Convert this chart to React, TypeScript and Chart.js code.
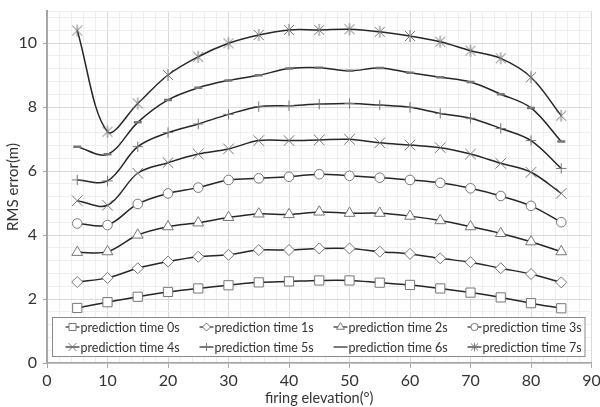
import React, { useEffect, useRef } from 'react';
import { Chart, registerables } from 'chart.js';
import { drawPoint } from 'chart.js/helpers';

Chart.register(...registerables);

// ---- data ----
const elevations = [5, 10, 15, 20, 25, 30, 35, 40, 45, 50, 55, 60, 65, 70, 75, 80, 85];
const seriesLabels = [
  'prediction time 0s',
  'prediction time 1s',
  'prediction time 2s',
  'prediction time 3s',
  'prediction time 4s',
  'prediction time 5s',
  'prediction time 6s',
  'prediction time 7s',
];
const rms0s = [1.72, 1.9, 2.07, 2.22, 2.33, 2.43, 2.52, 2.55, 2.58, 2.58, 2.51, 2.44, 2.33, 2.2, 2.05, 1.87, 1.71];
const rms1s = [2.53, 2.66, 2.96, 3.17, 3.32, 3.38, 3.53, 3.53, 3.58, 3.58, 3.48, 3.41, 3.27, 3.15, 2.96, 2.78, 2.52];
const rms2s = [3.46, 3.48, 4.0, 4.26, 4.38, 4.55, 4.66, 4.64, 4.72, 4.68, 4.68, 4.59, 4.45, 4.26, 4.05, 3.79, 3.48];
const rms3s = [4.36, 4.31, 4.97, 5.3, 5.48, 5.72, 5.77, 5.82, 5.9, 5.85, 5.79, 5.72, 5.63, 5.46, 5.22, 4.91, 4.4];
const rms4s = [5.07, 4.93, 5.93, 6.26, 6.53, 6.69, 6.95, 6.95, 6.97, 6.99, 6.88, 6.81, 6.73, 6.53, 6.24, 5.96, 5.3];
const rms5s = [5.72, 5.69, 6.76, 7.2, 7.47, 7.77, 8.01, 8.04, 8.09, 8.11, 8.06, 7.99, 7.8, 7.65, 7.33, 6.95, 6.08];
const rms6s = [6.76, 6.52, 7.52, 8.22, 8.6, 8.83, 8.99, 9.2, 9.23, 9.13, 9.22, 9.07, 8.93, 8.78, 8.4, 7.97, 6.92];
const rms7s = [10.39, 7.23, 8.11, 9.0, 9.57, 9.99, 10.25, 10.41, 10.41, 10.43, 10.35, 10.22, 10.04, 9.76, 9.52, 8.93, 7.73];
const seriesValues = [rms0s, rms1s, rms2s, rms3s, rms4s, rms5s, rms6s, rms7s];

const xMin = 0;
const xMax = 90;
const xMinorStep = 2;
const xMajorStep = 10;
const yMin = 0;
const yMax = 11;
const yMinorStep = 0.4;
const yMajorStep = 2;

const xTitle = 'firing elevation(°)';
const yTitle = 'RMS error(m)';

const FONT = 'Lato';
const TEXT = '#333333';
const LINE = '#262626';
const MARK = '#767676';

function makeStar(half: number, lw: number) {
  const size = Math.ceil(half * 2 + lw * 2 + 2);
  const c = document.createElement('canvas');
  c.width = size;
  c.height = size;
  const g = c.getContext('2d')!;
  const m = size / 2;
  g.strokeStyle = MARK;
  g.lineWidth = lw;
  g.beginPath();
  g.moveTo(m - half, m - half);
  g.lineTo(m + half, m + half);
  g.moveTo(m + half, m - half);
  g.lineTo(m - half, m + half);
  g.moveTo(m, m - half * 1.2);
  g.lineTo(m, m + half * 1.2);
  g.stroke();
  return c;
}

const isMult = (v: number, step: number) => Math.abs(v / step - Math.round(v / step)) < 1e-6;

const boxLegend = {
  id: 'boxLegend',
  afterDraw(chart: any) {
    const { ctx, chartArea } = chart;
    const left = chartArea.left + 5.5;
    const top = chartArea.bottom - 45.5;
    const w = chartArea.right - chartArea.left - 12;
    const h = 39;
    ctx.save();
    ctx.fillStyle = '#ffffff';
    ctx.fillRect(left, top, w, h);
    ctx.strokeStyle = '#8a8a8a';
    ctx.lineWidth = 1;
    ctx.strokeRect(left, top, w, h);
    chart.data.datasets.forEach((ds: any, i: number) => {
      const col = i % 4;
      const row = Math.floor(i / 4);
      const cx = left + 20 + col * 134;
      const cy = top + 9.5 + row * 20;
      ctx.strokeStyle = LINE;
      ctx.lineWidth = 1.2;
      ctx.beginPath();
      ctx.moveTo(cx - 7, cy);
      ctx.lineTo(cx + 7, cy);
      ctx.stroke();
      if (ds.legendStyle) {
        ctx.fillStyle = '#ffffff';
        ctx.strokeStyle = MARK;
        ctx.lineWidth = 1;
        drawPoint(ctx, { pointStyle: ds.legendStyle, radius: ds.legendRadius, rotation: 0, borderWidth: 1 }, cx, cy);
      }
      ctx.fillStyle = TEXT;
      ctx.font = `12.5px ${FONT}`;
      ctx.textBaseline = 'middle';
      ctx.textAlign = 'left';
      ctx.fillText(ds.label, cx + 8, cy + 0.5);
    });
    ctx.restore();
  },
};

export default function App() {
  const ref = useRef<HTMLCanvasElement>(null);

  useEffect(() => {
    const starBig = makeStar(5, 1);
    const starSmall = makeStar(3.5, 1);
    const styles: any[] = ['rect', 'rectRot', 'triangle', 'circle', 'crossRot', 'cross', 'line', starBig];
    const radii = [6.5, 5.5, 6.2, 4.8, 7.5, 5.2, 4, 6];
    const legendStyles: any[] = ['rect', 'rectRot', 'triangle', 'circle', 'crossRot', 'cross', null, starSmall];
    const legendRadii = [5, 4, 4.5, 3.6, 5.5, 4, 0, 4];

    const datasets = seriesValues.map((vals, i) => ({
      label: seriesLabels[i],
      data: vals.map((y, j) => ({ x: elevations[j], y })),
      borderColor: LINE,
      borderWidth: 1.5,
      tension: 0.35,
      fill: false,
      pointStyle: styles[i],
      pointRadius: radii[i],
      pointHoverRadius: radii[i],
      pointBackgroundColor: '#ffffff',
      pointBorderColor: MARK,
      pointBorderWidth: i === 6 ? 2.5 : 1,
      legendStyle: legendStyles[i],
      legendRadius: legendRadii[i],
    }));

    const chart = new Chart(ref.current!, {
      type: 'line',
      data: { datasets } as any,
      options: {
        animation: false,
        responsive: false,
        events: [],
        layout: { padding: { top: 11, right: 4, left: 0, bottom: 0 } },
        plugins: {
          legend: { display: false },
          tooltip: { enabled: false },
        },
        scales: {
          x: {
            type: 'linear',
            min: xMin,
            max: xMax,
            afterBuildTicks: (s: any) => {
              const t = [];
              for (let v = xMin; v <= xMax + 1e-9; v += xMinorStep) t.push({ value: v });
              s.ticks = t;
            },
            afterFit: (s: any) => {
              s.height = 44;
              s.paddingLeft = 0;
              s.paddingRight = 0;
            },
            ticks: {
              autoSkip: false,
              maxRotation: 0,
              padding: 3,
              color: TEXT,
              font: { family: FONT, size: 16 },
              callback: (v: any) => (isMult(Number(v), xMajorStep) ? String(Math.round(Number(v))) : ''),
            },
            grid: {
              color: (c: any) => (c.tick && isMult(c.tick.value, xMajorStep) ? '#d9d9d9' : '#efefef'),
              tickColor: (c: any) => (c.tick && isMult(c.tick.value, xMajorStep) ? '#a6a6a6' : 'rgba(0,0,0,0)'),
              tickLength: 5,
              lineWidth: 1,
            },
            border: { color: '#a6a6a6', width: 1.5 },
            title: {
              display: true,
              text: xTitle,
              color: TEXT,
              font: { family: FONT, size: 14.5 },
              padding: { top: 0, bottom: 0 },
            },
          },
          y: {
            type: 'linear',
            min: yMin,
            max: yMax,
            afterBuildTicks: (s: any) => {
              const t = [];
              for (let k = 0; k * yMinorStep < yMax - 1e-9; k++) t.push({ value: Math.round(k * yMinorStep * 10) / 10 });
              t.push({ value: yMax });
              s.ticks = t;
            },
            afterFit: (s: any) => {
              s.width = 47;
              s.paddingTop = 0;
              s.paddingBottom = 0;
            },
            ticks: {
              autoSkip: false,
              padding: 6,
              color: TEXT,
              font: { family: FONT, size: 16 },
              callback: (v: any) => (isMult(Number(v), yMajorStep) ? String(Math.round(Number(v))) : ''),
            },
            grid: {
              color: (c: any) => (c.tick && isMult(c.tick.value, yMajorStep) ? '#d9d9d9' : '#efefef'),
              tickColor: (c: any) => (c.tick && isMult(c.tick.value, yMajorStep) ? '#a6a6a6' : 'rgba(0,0,0,0)'),
              tickLength: 4,
              lineWidth: 1,
            },
            border: { color: '#a6a6a6', width: 2 },
            title: {
              display: true,
              text: yTitle,
              color: TEXT,
              font: { family: FONT, size: 15 },
              padding: { top: 4, bottom: 0 },
            },
          },
        },
      } as any,
      plugins: [boxLegend],
    });
    return () => chart.destroy();
  }, []);

  return (
    <canvas
      ref={ref}
      width={600}
      height={407}
      style={{ position: 'absolute', left: 0, top: 0, width: 600, height: 407 }}
    />
  );
}
